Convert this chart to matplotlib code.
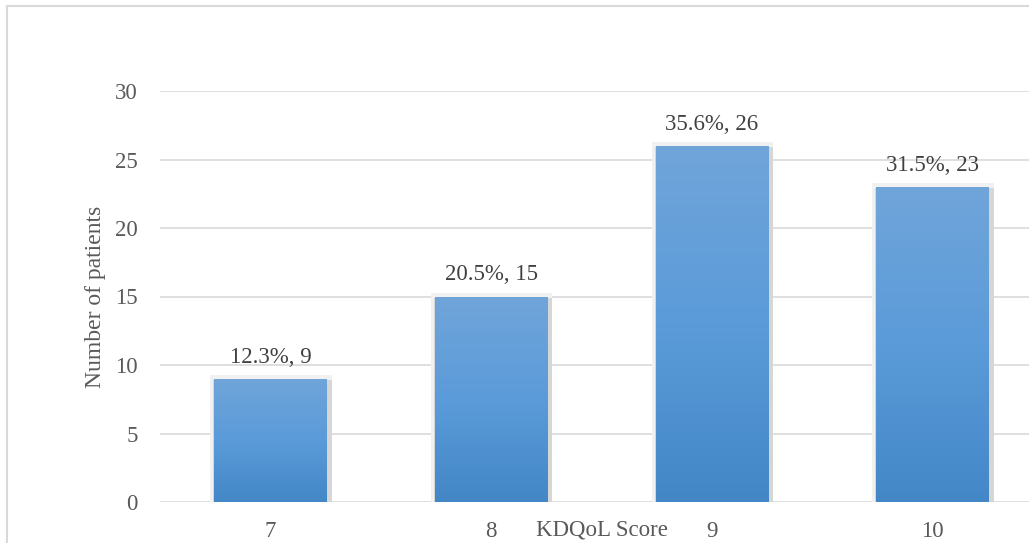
import numpy as np
import matplotlib
matplotlib.use("Agg")
import matplotlib.pyplot as plt
from matplotlib.colors import LinearSegmentedColormap
from matplotlib.patches import Rectangle

plt.rcParams['font.family'] = ['Liberation Serif', 'DejaVu Serif']

scores = ['7', '8', '9', '10']
patients = [9, 15, 26, 23]
percent = [12.3, 20.5, 35.6, 31.5]

text_col = '#595959'
grid_col = '#d9d9d9'

fig = plt.figure(figsize=(10.29, 5.43), dpi=100)
W, H = 1029, 543

# chart frame (runs off the right/bottom edge)
fig.patches.append(Rectangle((7 / W, -0.1), 1.2, 1 - 6 / H + 0.1,
                             transform=fig.transFigure, fill=False,
                             edgecolor=grid_col, lw=1.5))

ax = fig.add_axes([160 / W, 41 / H, 883 / W, 411 / H])
ax.set_xlim(-0.5, 3.5)
ax.set_ylim(0, 30)
ax.set_yticks(range(0, 31, 5))
ax.set_xticks(range(len(scores)))
ax.set_xticklabels(scores)
ax.grid(axis='y', color=grid_col, lw=1.2)
ax.set_axisbelow(True)
for s in ax.spines.values():
    s.set_visible(False)
ax.tick_params(length=0, labelsize=16.5, labelcolor=text_col)
ax.tick_params(axis='y', pad=16)
ax.tick_params(axis='x', pad=14)

x = np.arange(len(scores))
width = 0.51
px_x = 883 / 4.0
px_y = 411 / 30.0

bars = ax.bar(x, patients, width=width, color='none', zorder=3)

cmap = LinearSegmentedColormap.from_list('blue', ['#4387c7', '#5b9bd9', '#70a5da'])
grad = np.linspace(0, 1, 256).reshape(-1, 1)

for b in bars:
    x0, w, h = b.get_x(), b.get_width(), b.get_height()
    # soft shadow behind each bar
    ax.add_patch(Rectangle((x0 - 4 / px_x, -2 / px_y), w + 9 / px_x, h + 6 / px_y,
                           facecolor='#f1f1f1', edgecolor='none', zorder=2))
    ax.add_patch(Rectangle((x0 - 1 / px_x, -2 / px_y), w + 6 / px_x, h + 1 / px_y,
                           facecolor='#d6d6d6', edgecolor='none', zorder=2.2))
    im = ax.imshow(grad, extent=[x0, x0 + w, 0, h], origin='lower',
                   cmap=cmap, aspect='auto', zorder=3)
    im.set_clip_path(b)

ax.set_xlim(-0.5, 3.5)
ax.set_ylim(0, 30)

for xi, n, p in zip(x, patients, percent):
    ax.text(xi, n + 11 / px_y, f'{p}%, {n}', ha='center', va='bottom',
            fontsize=16.5, color='#404040')

ax.set_ylabel('Number of patients', fontsize=17, color=text_col, va='center')
ax.yaxis.set_label_coords(-65 / 883, 0.5)
ax.set_xlabel('KDQoL Score', fontsize=16.5, color=text_col)
ax.xaxis.set_label_coords(0.5, -28 / 411)
ax.xaxis.label.set_va('center')

fig.savefig('out.png', dpi=100)
